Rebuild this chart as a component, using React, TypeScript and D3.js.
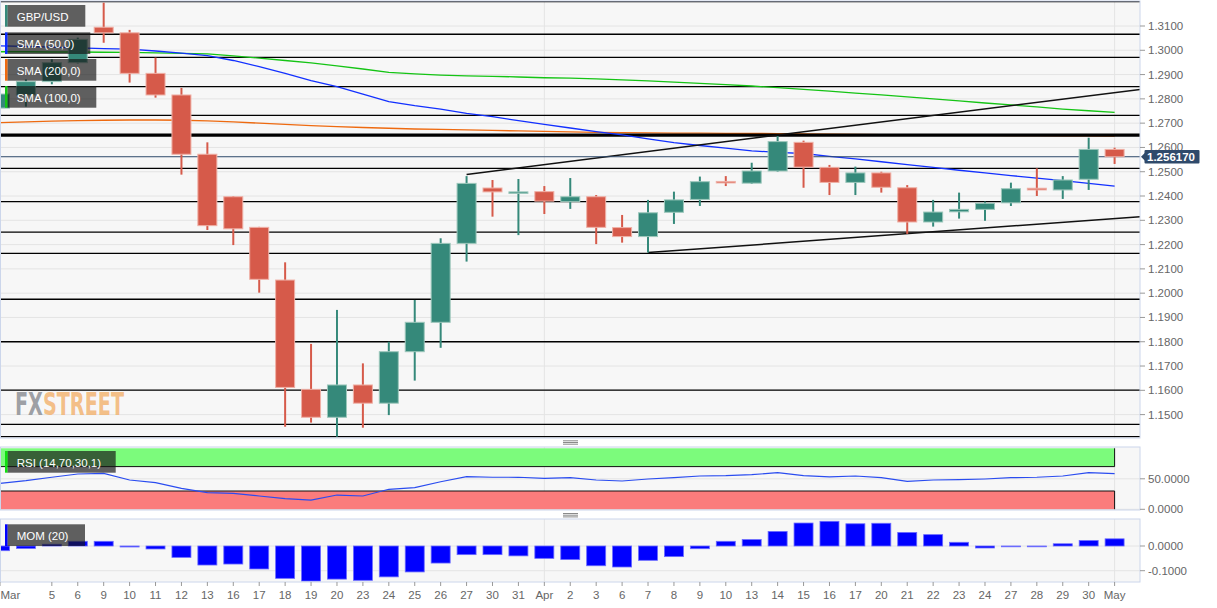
import React from "react";
import * as d3 from "d3";

// ---------------- DATA ----------------
const dateLabels = ["Mar","4","5","6","9","10","11","12","13","16","17","18","19","20","23","24","25","26","27","30","31","Apr","2","3","6","7","8","9","10","13","14","15","16","17","20","21","22","23","24","27","28","29","30","May"];
const hiddenLabelIdx = [1];
const monthStartIdx = [0, 21, 43];

const openPx = [1.2762,1.2816,1.2871,1.2949,1.3095,1.3072,1.2905,1.2816,1.2572,1.2397,1.2271,1.2054,1.1604,1.1489,1.1622,1.1547,1.1759,1.1880,1.2205,1.2433,1.2413,1.2418,1.2377,1.2397,1.2270,1.2233,1.2333,1.2386,1.2460,1.2453,1.2503,1.2621,1.2518,1.2456,1.2495,1.2434,1.2293,1.2335,1.2345,1.2372,1.2432,1.2425,1.2469,1.2592];
const highPx = [1.2840,1.2880,1.2963,1.3052,1.3196,1.3084,1.2970,1.2845,1.2621,1.2400,1.2273,1.2127,1.1791,1.1931,1.1711,1.1800,1.1972,1.2226,1.2482,1.2466,1.2470,1.2441,1.2474,1.2404,1.2322,1.2384,1.2418,1.2480,1.2482,1.2537,1.2647,1.2628,1.2528,1.2521,1.2500,1.2445,1.2384,1.2414,1.2377,1.2455,1.2514,1.2482,1.2640,1.2599];
const lowPx = [1.2750,1.2768,1.2860,1.2946,1.3031,1.2867,1.2805,1.2488,1.2260,1.2198,1.2002,1.1450,1.1467,1.1409,1.1446,1.1498,1.1640,1.1775,1.2130,1.2315,1.2239,1.2326,1.2347,1.2202,1.2208,1.2167,1.2285,1.2359,1.2441,1.2450,1.2500,1.2434,1.2404,1.2404,1.2414,1.2244,1.2274,1.2307,1.2298,1.2359,1.2400,1.2388,1.2425,1.2532];
const closePx = [1.2820,1.2871,1.2949,1.3045,1.3072,1.2905,1.2816,1.2572,1.2278,1.2265,1.2057,1.1612,1.1489,1.1622,1.1547,1.1759,1.1880,1.2205,1.2452,1.2417,1.2417,1.2379,1.2397,1.2271,1.2233,1.2331,1.2384,1.2459,1.2454,1.2503,1.2624,1.2519,1.2456,1.2495,1.2436,1.2293,1.2334,1.2345,1.2370,1.2430,1.2425,1.2466,1.2592,1.25617];

const sma50 = [1.3018,1.3016,1.3013,1.3010,1.3007,1.3005,1.2997,1.2988,1.2978,1.2958,1.2933,1.2905,1.2875,1.2850,1.2820,1.2789,1.2772,1.2758,1.2740,1.2727,1.2710,1.2695,1.2680,1.2665,1.2652,1.2635,1.2620,1.2608,1.2597,1.2586,1.2580,1.2575,1.2563,1.2553,1.2541,1.2529,1.2518,1.2506,1.2495,1.2484,1.2474,1.2463,1.2452,1.2441];
const sma100 = [1.2994,1.2994,1.2993,1.2993,1.2992,1.2991,1.2989,1.2987,1.2985,1.2977,1.2968,1.2958,1.2948,1.2936,1.2923,1.2909,1.2903,1.2898,1.2895,1.2893,1.2890,1.2887,1.2885,1.2882,1.2878,1.2874,1.2869,1.2864,1.2859,1.2853,1.2846,1.2839,1.2832,1.2824,1.2816,1.2808,1.2800,1.2792,1.2783,1.2775,1.2767,1.2758,1.2751,1.2744];
const sma200 = [1.2702,1.2705,1.2708,1.2710,1.2712,1.2713,1.2713,1.2712,1.2709,1.2705,1.2700,1.2695,1.2690,1.2686,1.2682,1.2679,1.2676,1.2674,1.2672,1.2670,1.2668,1.2666,1.2664,1.2662,1.2661,1.2660,1.2659,1.2659,1.2658,1.2658,1.2657,1.2656,1.2655,1.2654,1.2653,1.2652,1.2651,1.2651,1.2650,1.2649,1.2649,1.2648,1.2648,1.2647];

const rsi14 = [42.6,46.9,52.5,57.9,59.0,48.0,43.6,34.4,27.2,26.2,21.8,17.4,15.2,23.4,21.8,32.8,35.4,45.2,53.4,52.5,52.5,50.8,51.8,48.0,46.4,49.7,51.8,54.6,55.1,56.7,60.0,55.1,53.0,54.6,51.8,45.9,48.0,48.5,49.7,51.8,52.5,54.6,60.0,58.4];
const mom20 = [-0.019,-0.010,0.007,0.019,0.019,-0.004,-0.012,-0.046,-0.077,-0.073,-0.093,-0.131,-0.142,-0.134,-0.139,-0.125,-0.105,-0.069,-0.035,-0.035,-0.040,-0.050,-0.055,-0.080,-0.085,-0.058,-0.043,-0.011,0.019,0.026,0.059,0.093,0.100,0.090,0.092,0.055,0.046,0.015,-0.008,-0.002,-0.001,0.009,0.022,0.029];

const priceTicks = [1.31,1.30,1.29,1.28,1.27,1.26,1.25,1.24,1.23,1.22,1.21,1.20,1.19,1.18,1.17,1.16,1.15];
const rsiTicks = [50, 0];
const momTicks = [0, -0.1];
const levelLines = [1.3200,1.3066,1.2971,1.2850,1.2732,1.2514,1.2377,1.2251,1.2164,1.1975,1.1800,1.1601,1.1460,1.1409];
const keyLevel = 1.2651;
const lastPrice = 1.25617;
const trendUpper = { idx: [18, 43.98], px: [1.2489, 1.2839] };
const trendLower = { idx: [25, 43.98], px: [1.2167, 1.2315] };
const legendMain = ["GBP/USD", "SMA (50,0)", "SMA (200,0)", "SMA (100,0)"];
const legendRsi = "RSI (14,70,30,1)";
const legendMom = "MOM (20)";

// ---------------- LAYOUT / STYLE ----------------
const W = 1217, H = 608;
const PL = 0, PR = 1140;
const mainTop = 1, mainBot = 438;
const rsiTop = 447, rsiBot = 510;
const momTop = 519, momBot = 582;
const FONT = "'Liberation Sans', Arial, sans-serif";
const GREEN = "#35897a";
const RED = "#d65a4a";
const BG = "#f7f7f7";
const GRID = "#e4e4e4";
const BORDER = "#ccd6eb";
const AXIS_TXT = "#666666";

export default function App() {
  const x = d3.scaleLinear().domain([0, 43]).range([0, 1114.6]);
  const y = d3.scaleLinear().domain([1.15, 1.31]).range([414.6, 26]);
  const yR = d3.scaleLinear().domain([0, 100]).range([509.3, 448.3]);
  const yM = d3.scaleLinear().domain([-0.1, 0]).range([570.7, 546]);
  const bw = 20;

  const lineGen = (arr: number[], sc: (v: number) => number) =>
    d3.line<number>().x((_, i) => x(i)).y((d) => sc(d))(arr) || "";

  const legendColors = [GREEN, "#0b2bff", "#ee6a10", "#15c415"];
  const legendBoxes = [
    { top: 5, w: 78 },
    { top: 32.3, w: 83 },
    { top: 59, w: 89 },
    { top: 86, w: 89 },
  ];

  const handle = (cy: number) => (
    <g>
      {[-1.7, 0, 1.7].map((d, k) => (
        <line key={k} x1={563} x2={578} y1={cy + d} y2={cy + d} stroke="#8a8a8a" strokeWidth={1} />
      ))}
    </g>
  );

  return (
    <svg width={W} height={H} style={{ position: "absolute", left: 0, top: 0, background: "#fff" }} fontFamily={FONT}>
      <defs>
        <clipPath id="cMain"><rect x={PL} y={mainTop} width={PR - PL} height={mainBot - mainTop} /></clipPath>
        <clipPath id="cRsi"><rect x={PL} y={rsiTop} width={PR - PL} height={rsiBot - rsiTop} /></clipPath>
        <clipPath id="cMom"><rect x={PL} y={momTop} width={PR - PL} height={momBot - momTop} /></clipPath>
      </defs>

      {/* ---------- MAIN PANEL ---------- */}
      <rect x={PL} y={mainTop} width={PR - PL} height={mainBot - mainTop} fill={BG} />
      <g clipPath="url(#cMain)">
        {priceTicks.map((t) => (
          <line key={t} x1={PL} x2={PR} y1={y(t)} y2={y(t)} stroke={GRID} strokeWidth={1} />
        ))}
        {monthStartIdx.map((i) => (
          <line key={i} x1={x(i)} x2={x(i)} y1={mainTop} y2={mainBot} stroke={GRID} strokeWidth={1} />
        ))}
        {/* watermark */}
        <text x={15} y={415} fontFamily="'DejaVu Sans Condensed', 'DejaVu Sans', sans-serif" fontWeight="bold" fontSize={32} textLength={109} lengthAdjust="spacingAndGlyphs">
          <tspan fill="#8e9196" fillOpacity={0.85}>FX</tspan>
          <tspan fill="#f2b06a" fillOpacity={0.8}>STREET</tspan>
        </text>

        {/* horizontal levels */}
        {levelLines.map((v) => (
          <line key={v} x1={PL} x2={PR} y1={y(v)} y2={y(v)} stroke="#000" strokeWidth={1.3} />
        ))}

        {/* SMA lines */}
        <path d={lineGen(sma200, y)} fill="none" stroke="#ee6a10" strokeWidth={1.3} />
        <line x1={PL} x2={PR} y1={y(keyLevel)} y2={y(keyLevel)} stroke="#000" strokeWidth={3.2} />
        <path d={lineGen(sma100, y)} fill="none" stroke="#15c415" strokeWidth={1.3} />
        <path d={lineGen(sma50, y)} fill="none" stroke="#1230ff" strokeWidth={1.3} />

        {/* trend lines */}
        <line x1={x(trendUpper.idx[0])} x2={x(trendUpper.idx[1])} y1={y(trendUpper.px[0])} y2={y(trendUpper.px[1])} stroke="#111" strokeWidth={1.5} />
        <line x1={x(trendLower.idx[0])} x2={x(trendLower.idx[1])} y1={y(trendLower.px[0])} y2={y(trendLower.px[1])} stroke="#111" strokeWidth={1.5} />

        {/* last price line */}
        <line x1={PL} x2={PR} y1={y(lastPrice)} y2={y(lastPrice)} stroke="#2f4a6b" strokeWidth={1} />

        {/* candles */}
        {openPx.map((o, i) => {
          const c = closePx[i];
          const up = c >= o;
          const col = up ? GREEN : RED;
          const top = y(Math.max(o, c));
          const bot = y(Math.min(o, c));
          return (
            <g key={i}>
              <line x1={x(i)} x2={x(i)} y1={y(highPx[i])} y2={y(lowPx[i])} stroke={col} strokeWidth={2} />
              <rect x={x(i) - bw / 2 + 0.5} y={top} width={bw - 1} height={Math.max(bot - top, 1.5)} fill={col}
                stroke={up ? "#9cc7bb" : "#efb0a6"} strokeWidth={1} />
            </g>
          );
        })}
      </g>
      <rect x={PL + 0.5} y={mainTop} width={PR - PL - 0.5} height={mainBot - mainTop} fill="none" stroke={BORDER} strokeWidth={1} />

      {/* main y axis */}
      {priceTicks.map((t) => (
        <g key={t}>
          <line x1={PR} x2={PR + 5} y1={y(t)} y2={y(t)} stroke="#999" strokeWidth={1} />
          <text x={1148} y={y(t)} dy="0.35em" fontSize={11.5} fill={AXIS_TXT}>{t.toFixed(4)}</text>
        </g>
      ))}
      {/* last price label */}
      <path d={`M ${PR + 1} ${y(lastPrice)} L ${PR + 5} ${y(lastPrice) - 4} L ${PR + 5} ${y(lastPrice) + 4} Z`} fill="#2f4a6b" />
      <rect x={PR + 4.5} y={y(lastPrice) - 6.8} width={55} height={13.6} rx={1} fill="#2f4a6b" />
      <text x={PR + 7} y={y(lastPrice)} dy="0.36em" fontSize={11.5} fontWeight="bold" fill="#fff">{lastPrice.toFixed(6)}</text>

      {handle(442.5)}

      {/* ---------- RSI PANEL ---------- */}
      <rect x={PL} y={rsiTop} width={PR - PL} height={rsiBot - rsiTop} fill={BG} />
      <g clipPath="url(#cRsi)">
        {rsiTicks.map((t) => (
          <line key={t} x1={PL} x2={PR} y1={yR(t)} y2={yR(t)} stroke={GRID} />
        ))}
        {monthStartIdx.map((i) => (
          <line key={i} x1={x(i)} x2={x(i)} y1={rsiTop} y2={rsiBot} stroke={GRID} />
        ))}
        <rect x={x(0)} y={yR(100)} width={x(43) - x(0)} height={yR(70) - yR(100)} fill="#7cfb7c" />
        <rect x={x(0)} y={yR(30)} width={x(43) - x(0)} height={yR(0) - yR(30)} fill="#fb7c7c" />
        <path d={`M ${x(0)} ${yR(70)} L ${x(43)} ${yR(70)} L ${x(43)} ${yR(100)}`} fill="none" stroke="#111" strokeWidth={1} />
        <path d={`M ${x(0)} ${yR(30)} L ${x(43)} ${yR(30)} L ${x(43)} ${yR(0)}`} fill="none" stroke="#111" strokeWidth={1} />
        <path d={lineGen(rsi14, yR)} fill="none" stroke="#2a4cf0" strokeWidth={1.2} />
      </g>
      <rect x={PL + 0.5} y={rsiTop} width={PR - PL - 0.5} height={rsiBot - rsiTop} fill="none" stroke={BORDER} strokeWidth={1} />
      {rsiTicks.map((t) => (
        <g key={t}>
          <line x1={PR} x2={PR + 5} y1={yR(t)} y2={yR(t)} stroke="#999" />
          <text x={1148} y={yR(t)} dy="0.35em" fontSize={11.5} fill={AXIS_TXT}>{t.toFixed(4)}</text>
        </g>
      ))}

      {handle(515.2)}

      {/* ---------- MOM PANEL ---------- */}
      <rect x={PL} y={momTop} width={PR - PL} height={momBot - momTop} fill={BG} />
      <g clipPath="url(#cMom)">
        {momTicks.map((t) => (
          <line key={t} x1={PL} x2={PR} y1={yM(t)} y2={yM(t)} stroke={GRID} />
        ))}
        {monthStartIdx.map((i) => (
          <line key={i} x1={x(i)} x2={x(i)} y1={momTop} y2={momBot} stroke={GRID} />
        ))}
        {mom20.map((v, i) => {
          const y0 = yM(0), y1 = yM(v);
          return (
            <rect key={i} x={x(i) - bw / 2 + 0.5} y={Math.min(y0, y1)} width={bw - 1} height={Math.max(Math.abs(y1 - y0), 0.8)}
              fill="#0000ff" stroke="#6b6bff" strokeWidth={0.8} />
          );
        })}
      </g>
      <rect x={PL + 0.5} y={momTop} width={PR - PL - 0.5} height={momBot - momTop} fill="none" stroke={BORDER} strokeWidth={1} />
      {momTicks.map((t) => (
        <g key={t}>
          <line x1={PR} x2={PR + 5} y1={yM(t)} y2={yM(t)} stroke="#999" />
          <text x={1148} y={yM(t)} dy="0.35em" fontSize={11.5} fill={AXIS_TXT}>{t.toFixed(4)}</text>
        </g>
      ))}

      {/* ---------- X AXIS ---------- */}
      {dateLabels.map((lab, i) =>
        hiddenLabelIdx.includes(i) ? null : (
          <g key={i}>
            <line x1={x(i)} x2={x(i)} y1={momBot} y2={momBot + 4} stroke="#999" />
            <text x={i === 0 ? 0.5 : x(i)} y={599} fontSize={11.5} fill={AXIS_TXT} textAnchor={i === 0 ? "start" : "middle"}>{lab}</text>
          </g>
        )
      )}

      {/* ---------- LEGENDS ---------- */}
      {legendMain.map((name, k) => (
        <g key={name}>
          <rect x={7.3} y={legendBoxes[k].top} width={legendBoxes[k].w} height={21.7} fill="rgba(22,22,22,0.68)" />
          <rect x={5} y={legendBoxes[k].top} width={2.5} height={21.7} fill={legendColors[k]} />
          <text x={16.7} y={legendBoxes[k].top + 15.5} fontSize={11.5} fill="#fff">{name}</text>
        </g>
      ))}
      <g>
        <rect x={7.3} y={451} width={108.4} height={21.7} fill="rgba(22,22,22,0.68)" />
        <rect x={5} y={451} width={2.5} height={21.7} fill="#10e010" />
        <text x={16.7} y={466.5} fontSize={11.5} fill="#fff">{legendRsi}</text>
      </g>
      <g>
        <rect x={7.3} y={524.3} width={77.7} height={21.7} fill="rgba(22,22,22,0.68)" />
        <rect x={5} y={524.3} width={2.5} height={21.7} fill="#0000ff" />
        <text x={16.7} y={539.8} fontSize={11.5} fill="#fff">{legendMom}</text>
      </g>
    </svg>
  );
}
